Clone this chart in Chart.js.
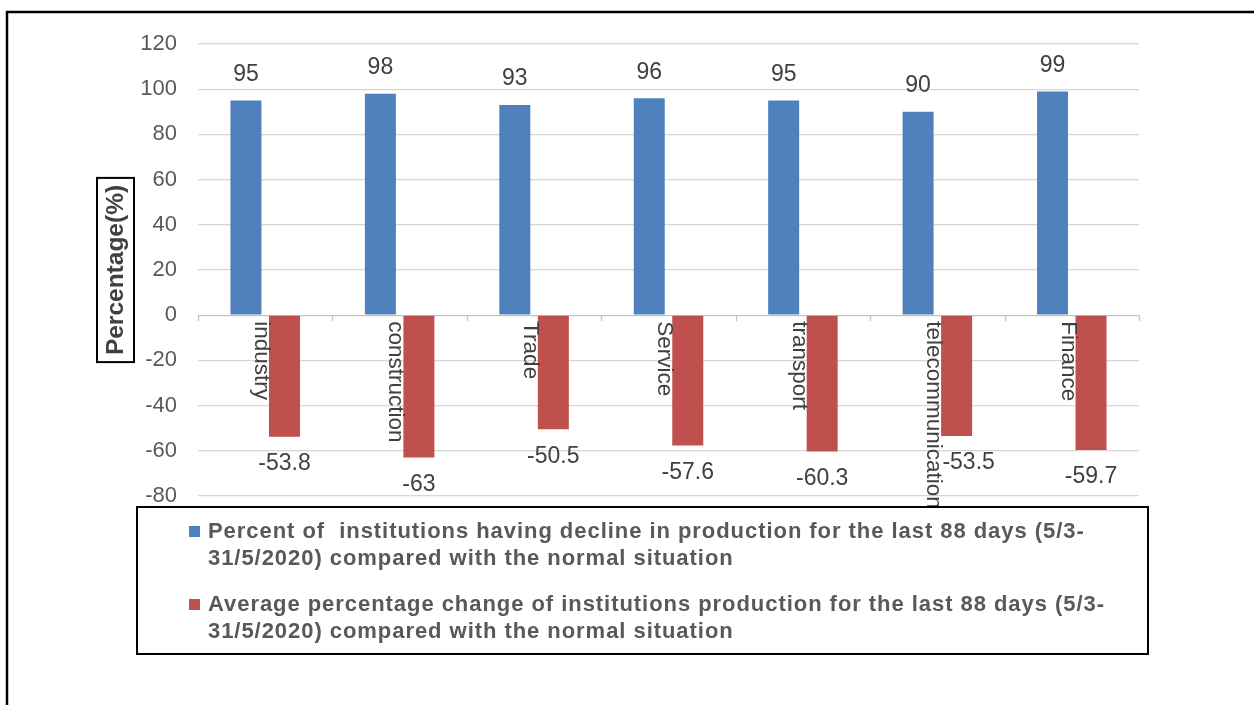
<!DOCTYPE html>
<html>
<head>
<meta charset="utf-8">
<title>Production decline by sector</title>
<script src="https://cdn.jsdelivr.net/npm/chart.js@4.4.0/dist/chart.umd.min.js"></script>
<style>
  html, body { margin: 0; padding: 0; background: #ffffff; }
  #wrap { width: 1254px; height: 705px; position: relative; }
  canvas { display: block; }
</style>
</head>
<body>
<div id="wrap"><canvas id="chart" width="1254" height="705"></canvas></div>
<script>
// Sectors on the category axis
const categories = ['industry', 'construction', 'Trade', 'Service', 'transport', 'telecommunication', 'Finance'];

// Share of institutions reporting lower production (%)
const declineShare = [95, 98, 93, 96, 95, 90, 99];

// Average change in production (%)
const averageChange = [-53.8, -63, -50.5, -57.6, -60.3, -53.5, -59.7];

// Value axis range and step
const yMin = -80;
const yMax = 120;
const yStep = 20;

// Series names, split the way they wrap in the legend
const seriesLines = [
  ['Percent of  institutions having decline in production for the last 88 days (5/3-',
   '31/5/2020) compared with the normal situation'],
  ['Average percentage change of institutions production for the last 88 days (5/3-',
   '31/5/2020) compared with the normal situation']
];

const axisTitle = 'Percentage(%)';

const FONT = "'Liberation Sans', Arial, Helvetica, sans-serif";
const BLUE = '#4F81BD';
const RED = '#C0504D';
const GRID = '#d6d6d6';

// the telecommunication change label sits a little right of its bar
const labelShift = { '1:5': 12 };

// Extra drawing: outer frame, value labels, sector names along the zero line,
// boxed axis title and the framed two-line legend.
const decorations = {
  id: 'decorations',
  afterDraw(chart) {
    const ctx = chart.ctx;
    const xs = chart.scales.x;
    const ys = chart.scales.y;
    const zeroY = ys.getPixelForValue(0);

    ctx.save();

    // outer frame
    ctx.strokeStyle = '#000000';
    ctx.lineWidth = 2.5;
    ctx.strokeRect(7, 12, 1400, 900);

    // category boundary ticks on the zero line
    ctx.strokeStyle = '#c4c4c4';
    ctx.lineWidth = 1.3;
    const catW = (xs.right - xs.left) / categories.length;
    for (let k = 0; k <= categories.length; k++) {
      const bx = Math.round(xs.left + k * catW) + 0.5;
      ctx.beginPath();
      ctx.moveTo(bx, zeroY);
      ctx.lineTo(bx, zeroY + 6);
      ctx.stroke();
    }

    // value labels at bar ends
    ctx.fillStyle = '#404040';
    ctx.font = '23px ' + FONT;
    ctx.textAlign = 'center';
    ctx.textBaseline = 'middle';
    chart.data.datasets.forEach((ds, di) => {
      const meta = chart.getDatasetMeta(di);
      meta.data.forEach((bar, i) => {
        const v = ds.data[i];
        const y = v >= 0 ? bar.y - 26 : bar.y + 27;
        const dx = labelShift[di + ':' + i] || 0;
        ctx.fillText(String(v), bar.x + dx, y);
      });
    });

    // sector names, rotated, hanging from the zero line
    ctx.fillStyle = '#404040';
    ctx.font = '22.5px ' + FONT;
    ctx.textAlign = 'left';
    ctx.textBaseline = 'middle';
    categories.forEach((name, i) => {
      const cx = xs.getPixelForValue(i) - 4;
      ctx.save();
      ctx.translate(cx, zeroY + 6);
      ctx.rotate(Math.PI / 2);
      ctx.fillText(name, 0, 0);
      ctx.restore();
    });

    // boxed axis title
    const tcx = 115.5;
    const tcy = (chart.chartArea.top + chart.chartArea.bottom) / 2;
    ctx.font = 'bold 24.5px ' + FONT;
    const tw = ctx.measureText(axisTitle).width;
    ctx.strokeStyle = '#000000';
    ctx.lineWidth = 2;
    ctx.strokeRect(tcx - 18.5, tcy - tw / 2 - 7, 37, tw + 14);
    ctx.save();
    ctx.translate(tcx, tcy);
    ctx.rotate(-Math.PI / 2);
    ctx.fillStyle = '#404040';
    ctx.textAlign = 'center';
    ctx.textBaseline = 'middle';
    ctx.fillText(axisTitle, 0, 1);
    ctx.restore();

    // legend frame
    const lx = 137, ly = 507, lw = 1011, lh = 147;
    ctx.fillStyle = '#ffffff';
    ctx.fillRect(lx, ly, lw, lh);
    ctx.strokeStyle = '#000000';
    ctx.lineWidth = 2;
    ctx.strokeRect(lx, ly, lw, lh);

    // legend entries (slightly tracked bold text)
    const entryBase = [538, 611];
    const colors = [BLUE, RED];
    ctx.font = 'bold 22px ' + FONT;
    ctx.textAlign = 'left';
    ctx.textBaseline = 'alphabetic';
    const tracked = 'letterSpacing' in ctx;
    if (tracked) ctx.letterSpacing = '0.95px';
    seriesLines.forEach((lines, s) => {
      const base = entryBase[s];
      ctx.fillStyle = colors[s];
      ctx.fillRect(189, base - 12, 11, 11);
      ctx.fillStyle = '#595959';
      lines.forEach((ln, j) => {
        if (tracked) {
          ctx.fillText(ln, 208, base + j * 27);
        } else {
          ctx.save();
          ctx.translate(208, base + j * 27);
          ctx.scale(1.1, 1);
          ctx.fillText(ln, 0, 0);
          ctx.restore();
        }
      });
    });
    if (tracked) ctx.letterSpacing = '0px';

    ctx.restore();
  }
};

new Chart(document.getElementById('chart'), {
  type: 'bar',
  data: {
    labels: categories,
    datasets: [
      {
        label: seriesLines[0].join(''),
        data: declineShare,
        backgroundColor: BLUE,
        categoryPercentage: 0.573,
        barPercentage: 0.805
      },
      {
        label: seriesLines[1].join(''),
        data: averageChange,
        backgroundColor: RED,
        categoryPercentage: 0.573,
        barPercentage: 0.805
      }
    ]
  },
  options: {
    responsive: false,
    animation: false,
    devicePixelRatio: 1,
    layout: { padding: { top: 44, right: 115, bottom: 209, left: 0 } },
    plugins: {
      legend: { display: false },
      tooltip: { enabled: false },
      title: { display: false }
    },
    scales: {
      x: {
        display: false,
        offset: true
      },
      y: {
        min: yMin,
        max: yMax,
        afterFit(scale) { scale.width = 198; },
        ticks: {
          stepSize: yStep,
          color: '#595959',
          padding: 21,
          font: { family: FONT, size: 22 }
        },
        grid: {
          color: (c) => (c.tick && c.tick.value === 0 ? '#c4c4c4' : GRID),
          lineWidth: 1.3,
          drawTicks: false
        },
        border: { display: false }
      }
    }
  },
  plugins: [decorations]
});
</script>
</body>
</html>
